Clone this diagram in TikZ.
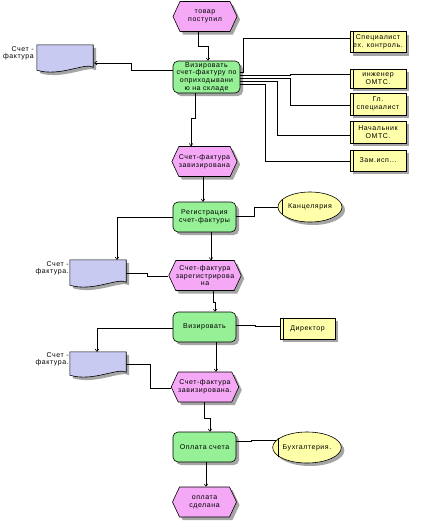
\documentclass[tikz,border=0pt]{standalone}
\usepackage{fontspec}
\setmainfont[LetterSpace=8]{Liberation Sans}
\usetikzlibrary{shapes.symbols,shapes.geometric,shadows,arrows.meta}
\definecolor{evfill}{RGB}{245,168,245}
\definecolor{fnfill}{RGB}{150,240,150}
\definecolor{orgfill}{RGB}{255,255,170}
\definecolor{docfill}{RGB}{200,202,242}
\definecolor{shd}{RGB}{165,165,165}
\tikzset{
  base/.style={font=\fontsize{7}{7.7}\selectfont, align=center, inner sep=0pt, line width=0.6pt},
  shadowed/.style={drop shadow={shadow xshift=3pt, shadow yshift=-3pt, fill=shd, opacity=1}},
  evbox/.style={base, shadowed, signal, signal to=east and west, signal pointer angle=130,
     draw, fill=evfill, minimum width=64pt, minimum height=30pt},
  fnbox/.style={base, shadowed, rectangle, rounded corners=5pt, draw, fill=fnfill,
     minimum width=63pt, minimum height=30pt},
  rolebox/.style={base, shadowed, rectangle, draw, fill=orgfill, minimum width=56pt, minimum height=21pt},
  orgell/.style={base, shadowed, ellipse, draw, fill=orgfill, minimum width=63pt, minimum height=30pt},
  docbox/.style={rectangle, draw=none, minimum width=56pt, minimum height=27pt, inner sep=0pt},
  doclabel/.style={base, align=right, anchor=north east},
  flow/.style={line width=0.6pt, -{To[length=3pt,width=4pt]}},
  org/.style={line width=0.6pt},
}
\newcommand\docshape[1]{%
  \fill[shd] ([shift={(3,3)}]#1.north west) -- ([shift={(3,3)}]#1.north east) -- ([shift={(3,-2)}]#1.south east)
     .. controls ([shift={(-5,-7)}]#1.south east) and ([shift={(26,8)}]#1.south west) .. ([shift={(3,1)}]#1.south west) -- cycle;
  \filldraw[fill=docfill, line width=0.6pt] (#1.north west) -- (#1.north east) -- ([shift={(0,-5)}]#1.south east)
     .. controls ([shift={(-8,-10)}]#1.south east) and ([shift={(23,5)}]#1.south west) .. ([shift={(0,-2)}]#1.south west) -- cycle;}
\begin{document}
\begin{tikzpicture}[x=1pt,y=-1pt]
\useasboundingbox (0,0) rectangle (422,528);
% events
\node[evbox] (e1) at (205,16.5) {товар\\поступил};
\node[evbox] (e2) at (204.5,161.5) {Счет-фактура\\завизирована};
\node[evbox] (e3) at (205,275.5) {Счет-фактура\\зарегистрирова\\на};
\node[evbox] (e4) at (205,387) {Счет-фактура\\завизирована.};
\node[evbox] (e5) at (204.5,502) {оплата\\сделана};
% functions
\node[fnbox, minimum width=67pt, minimum height=32pt] (f1) at (206.5,77) {Визировать\\счет-фактуру по\\оприходывани\\ю на складе};
\node[fnbox] (f2) at (204.5,217) {Регистрация\\счет-фактуры};
\node[fnbox] (f3) at (204.5,327) {Визировать};
\node[fnbox] (f4) at (204.5,447) {Оплата счета};
% roles
\node[rolebox] (r1) at (378,42) {Специалист\\ех. контроль.};
\node[rolebox, minimum height=19pt] (r2) at (378,78.5) {инженер\\ОМТС.};
\node[rolebox, minimum height=22pt] (r3) at (378,104) {Гл.\\специалист};
\node[rolebox, minimum height=22pt] (r4) at (378,132) {Начальник\\ОМТС.};
\node[rolebox] (r5) at (378,160.5) {Зам.исп...};
\node[rolebox, minimum width=55pt] (r6) at (307.5,328.5) {Директор};
\foreach \r in {r1,r2,r3,r4,r5,r6}{
  \draw[line width=0.6pt] ([xshift=4pt]\r.north west) -- ([xshift=4pt]\r.south west);}
% org units
\node[orgell, minimum width=64pt] (o1) at (310,207) {Канцелярия};
\node[orgell, minimum width=62pt, minimum height=31pt] (o2) at (307,447.5) {Бухгалтерия.};
\draw[line width=0.6pt] ([shift={(5,-8)}]o1.west) -- ([shift={(5,8)}]o1.west);
\draw[line width=0.6pt] ([shift={(6,-9.5)}]o2.west) -- ([shift={(6,9.5)}]o2.west);
% documents
\node[docbox] (d1) at (65,58.5) {};
\node[docbox] (d2) at (98,273.5) {};
\node[docbox, minimum height=25pt] (d3) at (98,364.5) {};
\docshape{d1}\docshape{d2}\docshape{d3}
\node[doclabel] (l1) at (34,46) {Счет -\\фактура};
\node[doclabel] (l2) at (69,261) {Счет -\\фактура.};
\node[doclabel] (l3) at (69,352) {Счет -\\фактура.};
% connectors
\draw[flow] ([xshift=-7pt]e1.south) -- ++(0,14) -| ([xshift=1.5pt]f1.north);
\draw[flow] ([yshift=7pt]f1.west) -- ++(-41,0) |- ([shift={(1,4.5)}]d1.east);
\draw[org] ([yshift=5pt]f1.east) -- ++(3,0) |- ([yshift=4pt]r1.west);
\draw[org] ([yshift=2pt]f1.east) -- ++(50,0) |- ([yshift=4.5pt]r2.west);
\draw[org] ([yshift=-1pt]f1.east) -- ++(50,0) |- ([yshift=-1pt]r3.west);
\draw[org] ([yshift=-4pt]f1.east) -- ++(37,0) |- ([yshift=-3pt]r4.west);
\draw[org] ([yshift=-7pt]f1.east) -- ++(25,0) |- ([yshift=-0.5pt]r5.west);
\draw[flow] ([xshift=-11.5pt]f1.south) -- ++(0,25) -| ([xshift=-13.5pt]e2.north);
\draw[flow] ([xshift=-1.5pt]e2.south) -- ([xshift=-1.5pt]f2.north);
\draw[org] ([yshift=1pt]f2.east) -- ++(18,0) |- (o1.west);
\draw[flow] (f2.west) -| ([xshift=19pt]d2.north);
\draw[flow] ([xshift=6.5pt]f2.south) -- ([xshift=6.5pt]f2.south |- e3.north);
\draw[org] (d2.east) -- ++(21,0) |- ([yshift=-0.5pt]e3.west);
\draw[flow] ([xshift=8pt]e3.south) -- ++(0,11) -| ([xshift=10.5pt]f3.north);
\draw[org] ([yshift=2pt]f3.east) -- ++(19,0) |- ([yshift=2.5pt]r6.west);
\draw[flow] ([yshift=-1pt]f3.west) -| ([xshift=-1pt]d3.north);
\draw[flow] ([xshift=11.5pt]f3.south) -- ([xshift=11.5pt]f3.south |- e4.north);
\draw[org] (d3.east) -- ++(24,0) |- ([yshift=-1pt]e4.west);
\draw[flow] ([xshift=-1pt]e4.south) -- ++(0,16) -| ([xshift=5.5pt]f4.north);
\draw[org] ([yshift=6pt]f4.east) -- ++(15,0) |- ([shift={(4,-7.5)}]o2.west);
\draw[flow] ([xshift=1.5pt]f4.south) -- ([xshift=1.5pt]f4.south |- e5.north);
\end{tikzpicture}
\end{document}
